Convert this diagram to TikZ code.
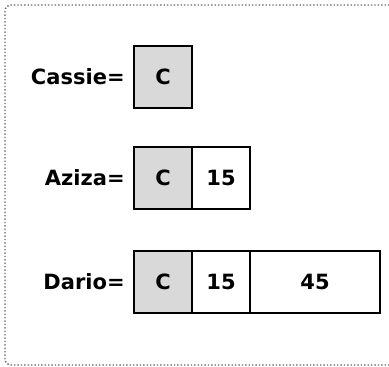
\documentclass[tikz,border=0pt]{standalone}
\usepackage{fontspec}
\setmainfont{DejaVu Sans}
\usetikzlibrary{positioning}
\begin{document}
\begin{tikzpicture}[x=1pt, y=-1pt, node distance=0pt, thick,
    cell/.style={draw, line width=1.8pt, minimum height=62pt, minimum width=58pt, outer sep=0pt, inner sep=0pt, font=\bfseries\fontsize{21}{24}\selectfont},
    first/.style={cell, fill=gray!30},
    wide/.style={cell, minimum width=130pt},
    varname/.style={anchor=east, inner sep=0pt, font=\bfseries\fontsize{21}{24}\selectfont}]
    \useasboundingbox (0,0) rectangle (389,367);
    % Cadre
    \draw[gray!80!black, dotted, line width=1.4pt, rounded corners=6pt] (5,5) rectangle (400,365);

    % Cassie
    \node[first] (cassieC) at (163,77) {C};
    \node[varname] (cassie) at (125,77) {Cassie=};

    % Aziza
    \node[first] (azizaC) at (163,178) {C};
    \node[cell, right=of azizaC] (aziza15) {15};
    \node[varname] (aziza) at (125,178) {Aziza=};

    % Dario
    \node[first] (darioC) at (163,282) {C};
    \node[cell, right=of darioC] (dario15) {15};
    \node[wide, right=of dario15] (dario45) {45};
    \node[varname] (dario) at (125,282) {Dario=};
\end{tikzpicture}
\end{document}
